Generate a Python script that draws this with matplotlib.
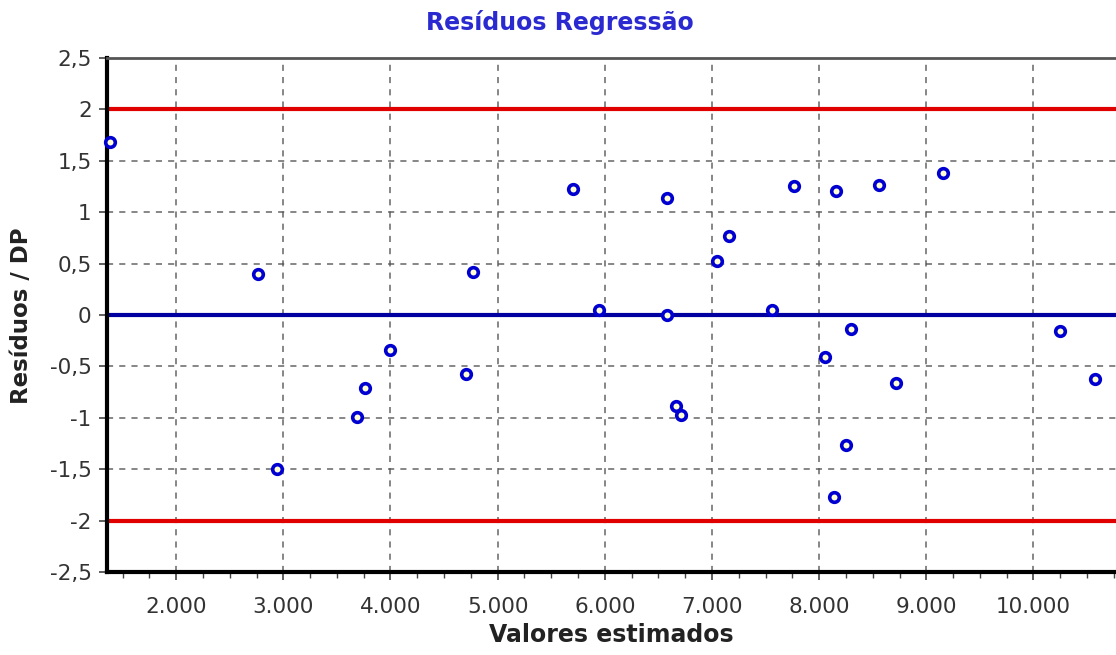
import numpy as np
import matplotlib
matplotlib.use("Agg")
from matplotlib import pyplot as plt
from matplotlib.ticker import FuncFormatter, MultipleLocator

plt.rcParams['font.family'] = ['DejaVu Sans']

# valores estimados x residuos padronizados
estimados = [1383, 2766, 2944, 3692, 3766, 3991, 4701, 4766, 5701, 5944,
             6579, 6579, 6664, 6710, 7047, 7159, 7561, 7766, 8056, 8159,
             8140, 8252, 8299, 8561, 8720, 9159, 10252, 10570]
residuos = [1.68, 0.40, -1.50, -0.99, -0.71, -0.34, -0.57, 0.42, 1.23, 0.05,
            1.14, 0.00, -0.89, -0.97, 0.53, 0.77, 0.05, 1.25, -0.41, 1.21,
            -1.77, -1.26, -0.14, 1.26, -0.66, 1.38, -0.16, -0.62]
limites = [-2, 2]

fig = plt.figure(figsize=(11.16, 6.55), dpi=100)
ax = fig.add_axes([0.0959, 0.1267, 0.9041, 0.7848])

ax.set_xlim(1355, 10770)
ax.set_ylim(-2.5, 2.5)

ax.grid(True, color='#555555', linestyle=(0, (4, 4)), linewidth=1.1, alpha=0.9)
ax.set_axisbelow(True)

for lim in limites:
    ax.axhline(lim, color='#e00000', linewidth=3, zorder=2)
ax.axhline(0, color='#0000a0', linewidth=3, zorder=2)

ax.scatter(estimados, residuos, s=48, facecolor='#ffffd0', edgecolor='#0000d0',
           linewidth=2.6, zorder=3, clip_on=False)

ax.xaxis.set_major_locator(MultipleLocator(1000))
ax.xaxis.set_minor_locator(MultipleLocator(250))
ax.yaxis.set_major_locator(MultipleLocator(0.5))
ax.xaxis.set_major_formatter(FuncFormatter(lambda v, p: f"{int(v):,}".replace(",", ".")))
ax.yaxis.set_major_formatter(FuncFormatter(lambda v, p: f"{v:g}".replace(".", ",")))

ax.tick_params(axis='both', which='major', labelsize=15.5, labelcolor='#333333',
               length=6, width=1.2, color='#444444')
ax.tick_params(axis='y', pad=5)
ax.tick_params(axis='x', pad=12)
ax.tick_params(axis='x', which='minor', length=4, width=1, color='#444444')

for side in ['left', 'bottom']:
    ax.spines[side].set_linewidth(3)
    ax.spines[side].set_color('black')
ax.spines['top'].set_linewidth(2)
ax.spines['top'].set_color('#555555')
ax.spines['right'].set_visible(False)

fig.text(0.502, 0.966, "Resíduos Regressão", color='#2a2ad0', fontsize=17,
         fontweight='bold', ha='center', va='center')
ax.set_xlabel("Valores estimados", fontsize=17, fontweight='bold', color='#222222', labelpad=4)
fig.text(0.019, 0.518, "Resíduos / DP", fontsize=16.5, fontweight='bold', color='#222222',
         rotation=90, ha='center', va='center')

fig.savefig("out.png", dpi=100)
